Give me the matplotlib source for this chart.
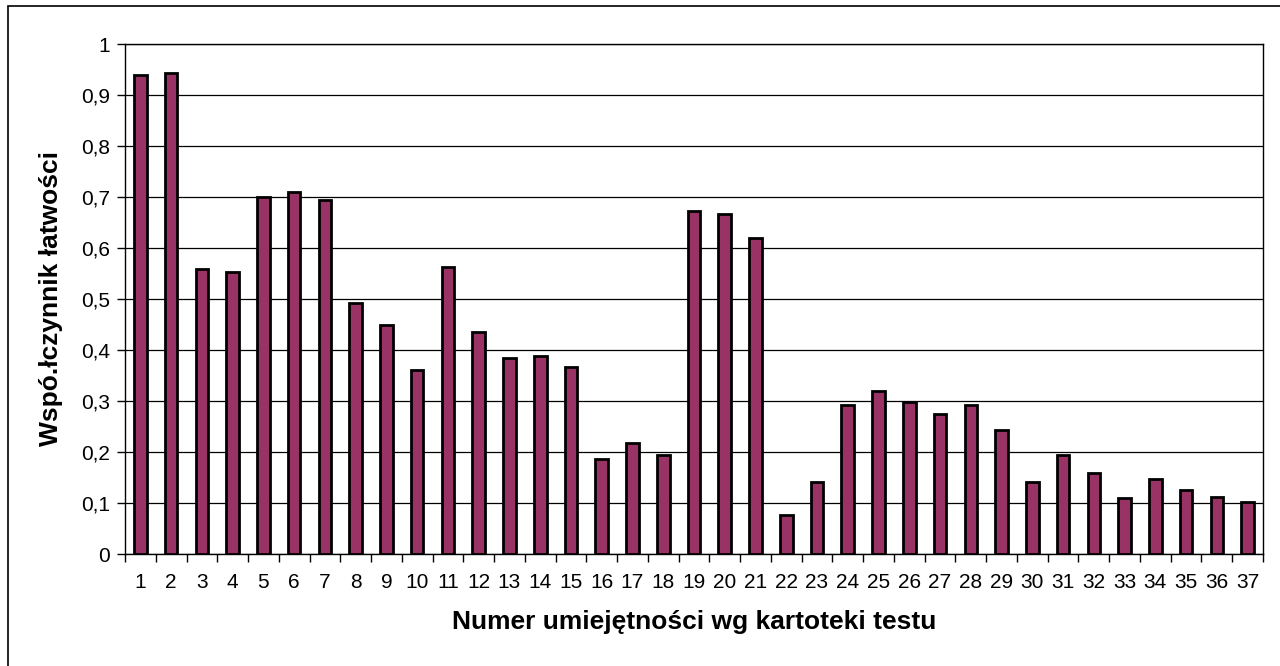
import numpy as np
import matplotlib.pyplot as plt
from matplotlib.patches import Rectangle

plt.rcParams['font.family'] = ['Liberation Sans', 'DejaVu Sans']

# data
categories = [str(i) for i in range(1, 38)]
values = [0.939, 0.944, 0.558, 0.553, 0.700, 0.709, 0.694, 0.493, 0.450, 0.360,
          0.563, 0.436, 0.385, 0.389, 0.366, 0.186, 0.217, 0.194, 0.673, 0.666,
          0.620, 0.077, 0.141, 0.293, 0.319, 0.299, 0.274, 0.293, 0.243, 0.141,
          0.194, 0.159, 0.109, 0.147, 0.125, 0.111, 0.102]
y_ticks = [0, 0.1, 0.2, 0.3, 0.4, 0.5, 0.6, 0.7, 0.8, 0.9, 1]
y_tick_labels = ["0", "0,1", "0,2", "0,3", "0,4", "0,5", "0,6", "0,7", "0,8", "0,9", "1"]
x_label = "Numer umiejętności wg kartoteki testu"
y_label = "Wspó.łczynnik łatwości"

fig = plt.figure(figsize=(12.8, 6.66), dpi=100)
ax = fig.add_axes([125 / 1280, 1 - 554 / 666, (1263 - 125) / 1280, (554 - 44) / 666])

# outer chart border (runs off the right and bottom edges)
fig.patches.append(Rectangle((8 / 1280, -0.05), 1.2, 1.05 - 6 / 666,
                             transform=fig.transFigure, fill=False,
                             edgecolor="black", linewidth=1.2))

x = np.arange(1, len(values) + 1)
ax.bar(x, values, width=0.41, color="#993366", edgecolor="black",
       linewidth=2.0, zorder=3)

ax.set_xlim(0.5, len(values) + 0.5)
ax.set_ylim(0, 1)

ax.set_yticks(y_ticks)
ax.set_yticklabels(y_tick_labels, fontsize=15)
ax.yaxis.grid(True, color="black", linewidth=0.9, zorder=0)

# ticks on category boundaries, labels at centres
ax.set_xticks(np.arange(0.5, len(values) + 1, 1))
ax.set_xticklabels([])
ax.set_xticks(x, minor=True)
ax.set_xticklabels(categories, minor=True, fontsize=15)
ax.tick_params(axis="x", which="major", direction="out", length=6, width=1)
ax.tick_params(axis="x", which="minor", length=0, pad=14)
ax.tick_params(axis="y", direction="out", length=6, width=1, pad=5)

for s in ax.spines.values():
    s.set_color("black")
    s.set_linewidth(1.0)

ax.set_xlabel(x_label, fontsize=19, fontweight="bold", labelpad=13)
ax.set_ylabel(y_label, fontsize=19, fontweight="bold", labelpad=13)

fig.savefig("out.png", dpi=100)
